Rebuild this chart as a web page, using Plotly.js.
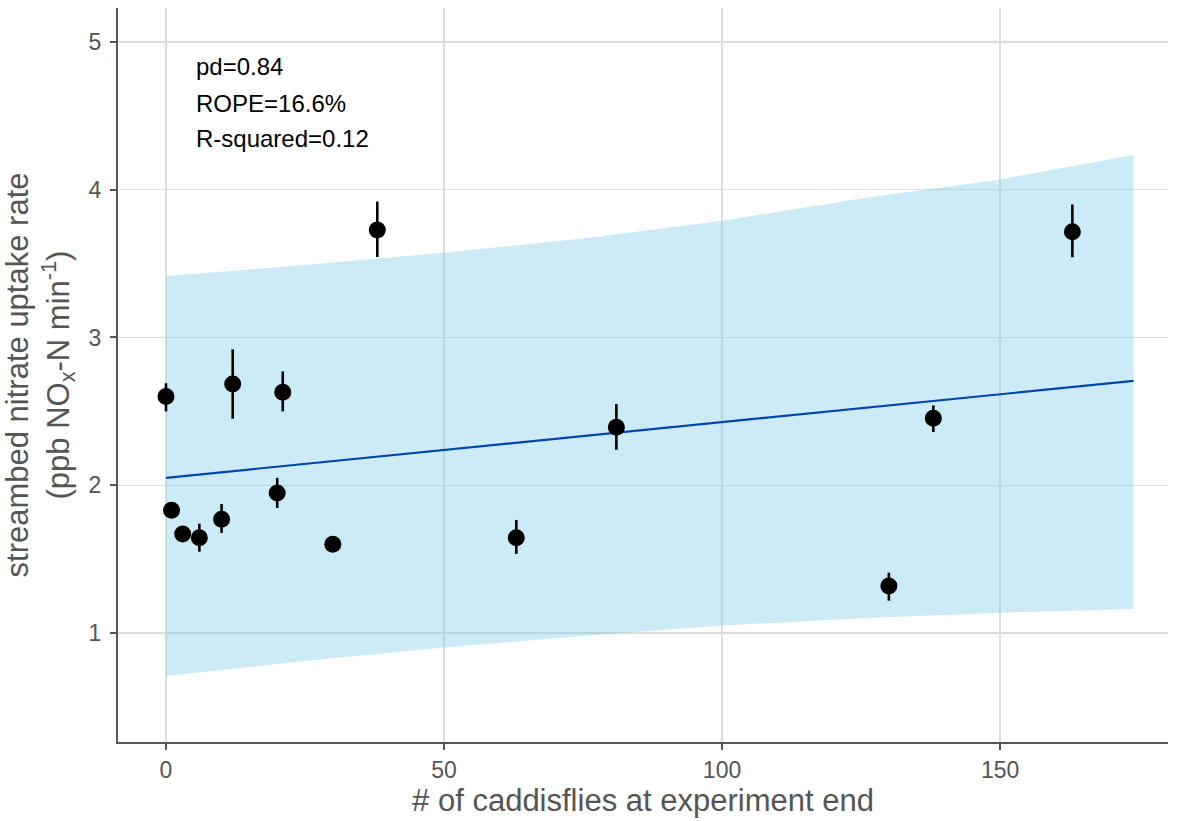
<!DOCTYPE html>
<html>
<head>
<meta charset="utf-8">
<script src="https://cdn.plot.ly/plotly-3.0.1.min.js"></script>
<style>html,body{margin:0;padding:0;background:#fff;}#chart{width:1183px;height:821px;}</style>
</head>
<body>
<div id="chart"></div>
<script>
// Observed points
const caddisflies = [0, 1, 3, 6, 10, 12, 20, 21, 30, 38, 63, 81, 130, 138, 163];
const uptakeRate  = [2.60, 1.83, 1.67, 1.645, 1.77, 2.685, 1.947, 2.63, 1.60, 3.728, 1.645, 2.392, 1.318, 2.453, 3.716];
const errUpper    = [2.69, 1.87, 1.70, 1.74, 1.873, 2.92, 2.05, 2.77, 1.63, 3.92, 1.765, 2.55, 1.408, 2.54, 3.90];
const errLower    = [2.50, 1.79, 1.64, 1.55, 1.677, 2.45, 1.846, 2.50, 1.57, 3.545, 1.535, 2.24, 1.219, 2.36, 3.543];

// Fitted line and credible band
const fitX     = [0, 25, 50, 75, 100, 125, 150, 174];
const fitY     = [2.05, 2.144, 2.238, 2.333, 2.427, 2.521, 2.615, 2.706];
const bandUpper = [3.416, 3.49, 3.574, 3.67, 3.79, 3.94, 4.07, 4.235];
const bandLower = [0.709, 0.81, 0.901, 0.98, 1.05, 1.10, 1.137, 1.162];

const statLabels = ["pd=0.84", "ROPE=16.6%", "R-squared=0.12"];
const statY = [4.831, 4.587, 4.344];

const xTicks = [0, 50, 100, 150];
const yTicks = [1, 2, 3, 4, 5];

const errPlus = uptakeRate.map((v, i) => errUpper[i] - v);
const errMinus = uptakeRate.map((v, i) => v - errLower[i]);

const FONT = '"Liberation Sans", Arial, Helvetica, sans-serif';

const traces = [
  {
    x: fitX.concat(fitX.slice().reverse()),
    y: bandUpper.concat(bandLower.slice().reverse()),
    type: 'scatter', mode: 'lines', fill: 'toself',
    fillcolor: 'rgba(135,206,235,0.42)', line: {width: 0, color: 'rgba(0,0,0,0)'},
    hoverinfo: 'skip', showlegend: false
  },
  {
    x: fitX, y: fitY, type: 'scatter', mode: 'lines',
    line: {color: '#0047ab', width: 2.2}, showlegend: false
  },
  {
    x: caddisflies, y: uptakeRate, type: 'scatter', mode: 'markers',
    marker: {color: '#000', size: 17},
    error_y: {type: 'data', symmetric: false, array: errPlus, arrayminus: errMinus,
              color: '#000', thickness: 2.6, width: 0},
    showlegend: false
  }
];

const layout = {
  width: 1183, height: 821,
  margin: {l: 118, r: 15, t: 8, b: 79},
  paper_bgcolor: '#fff', plot_bgcolor: '#fff',
  font: {family: FONT, color: '#555'},
  xaxis: {
    range: [-8.63, 180.2], tickvals: xTicks, ticktext: xTicks.map(String),
    showgrid: true, gridcolor: '#dcdcdc', gridwidth: 1.2, zeroline: false,
    showline: true, linecolor: '#555', linewidth: 2,
    ticks: 'outside', ticklen: 6, tickwidth: 2, tickcolor: '#555',
    tickfont: {size: 23, color: '#555', family: FONT},
    title: {text: '# of caddisflies at experiment end', font: {size: 31, color: '#555', family: FONT}, standoff: 8}
  },
  yaxis: {
    range: [0.262, 5.23], tickvals: yTicks, ticktext: yTicks.map(String),
    showgrid: true, gridcolor: '#dcdcdc', gridwidth: 1.2, zeroline: false,
    showline: true, linecolor: '#555', linewidth: 2,
    ticks: 'outside', ticklen: 6, tickwidth: 2, tickcolor: '#555',
    tickfont: {size: 23, color: '#555', family: FONT},
    ticklabelstandoff: 4,
    title: {text: 'streambed nitrate uptake rate<br>(ppb NO<sub>x</sub>-N min<sup>-1</sup>)', font: {size: 31, color: '#555', family: FONT}, standoff: 10}
  },
  annotations: statLabels.map((t, i) => ({
    x: 5, y: statY[i], xref: 'x', yref: 'y', text: t, showarrow: false,
    xanchor: 'left', yanchor: 'middle', font: {size: 24, color: '#000', family: FONT}
  }))
};

Plotly.newPlot('chart', traces, layout, {displayModeBar: false, staticPlot: true});
</script>
</body>
</html>
